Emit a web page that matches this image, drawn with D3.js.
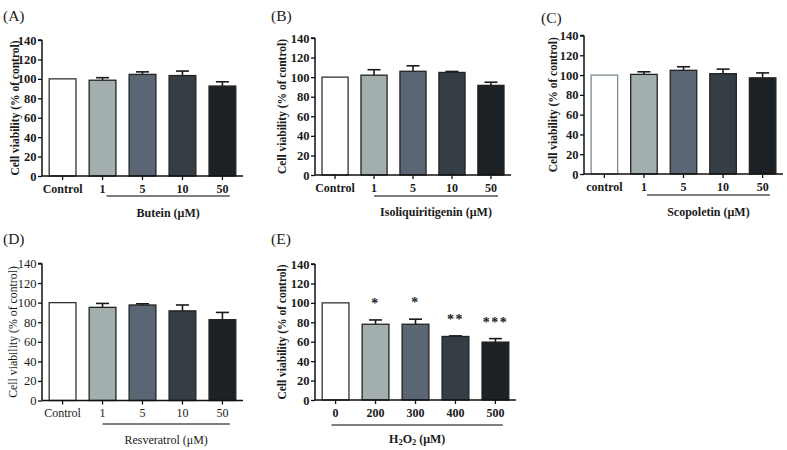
<!DOCTYPE html>
<html><head><meta charset="utf-8">
<script src="https://cdn.jsdelivr.net/npm/d3@7"></script>
<style>
html,body{margin:0;padding:0;background:#fff;}
svg{display:block;font-family:"Liberation Serif","Times New Roman",serif;}
</style></head>
<body><svg id="c" width="787" height="450"></svg>
<script>
// ---- data ----
const panelLabels = ["(A)", "(B)", "(C)", "(D)", "(E)"];
const yTicks = [0, 20, 40, 60, 80, 100, 120, 140];
const yTitle = "Cell viability (% of control)";

const categoriesA = ["Control", "1", "5", "10", "50"];
const valuesA = [100, 98.6, 104.6, 103.4, 92.6];
const errorsA = [0, 2.6, 2.6, 4.6, 4.4];
const xTitleA = "Butein (μM)";

const categoriesB = ["Control", "1", "5", "10", "50"];
const valuesB = [100, 102, 106, 104.8, 91.6];
const errorsB = [0, 5.6, 5.6, 1.0, 3.2];
const xTitleB = "Isoliquiritigenin (μM)";

const categoriesC = ["control", "1", "5", "10", "50"];
const valuesC = [100, 100.7, 104.8, 101.4, 97.2];
const errorsC = [0, 2.6, 3.6, 4.6, 5.0];
const xTitleC = "Scopoletin (μM)";

const categoriesD = ["Control", "1", "5", "10", "50"];
const valuesD = [100, 95.2, 97.6, 91.6, 82.6];
const errorsD = [0, 4.0, 1.2, 6.0, 7.4];
const xTitleD = "Resveratrol (μM)";

const categoriesE = ["0", "200", "300", "400", "500"];
const valuesE = [100, 78, 78, 65.4, 59.6];
const errorsE = [0, 4.4, 5.2, 0.6, 3.6];
const starsE = ["", "*", "*", "**", "***"];

const barColors = ["#ffffff", "#a3afaf", "#5a6673", "#353e44", "#1c2125"];

// ---- layout ----
const panels = [
  {lab: panelLabels[0], lx: 3, ly: 15, cats: categoriesA, vals: valuesA, errs: errorsA, xt: xTitleA,
   x0: 42, x1: 243, yTop: 40, yBot: 176, titleDx: 27, ulFrom: 1, ulDx: 4, ulDy: 20, xtDy: 37, bold: true, ctrlStroke: "#333"},
  {lab: panelLabels[1], lx: 271, ly: 15, cats: categoriesB, vals: valuesB, errs: errorsB, xt: xTitleB,
   x0: 315, x1: 511, yTop: 38, yBot: 175, titleDx: 33, ulFrom: 1, ulDx: 0, ulDy: 21, xtDy: 37, bold: true, ctrlStroke: "#333"},
  {lab: panelLabels[2], lx: 541, ly: 17, cats: categoriesC, vals: valuesC, errs: errorsC, xt: xTitleC,
   x0: 584, x1: 783, yTop: 35.5, yBot: 174, titleDx: 31, ulFrom: 1, ulDx: 3, ulDy: 21, xtDy: 38, bold: true, ctrlStroke: "#7e8c8c"},
  {lab: panelLabels[3], lx: 3, ly: 238, cats: categoriesD, vals: valuesD, errs: errorsD, xt: xTitleD,
   x0: 42, x1: 243, yTop: 263.5, yBot: 400.5, titleDx: 29, ulFrom: 1, ulDx: 0, ulDy: 23.5, xtDy: 39, bold: false, ctrlStroke: "#333"},
  {lab: panelLabels[4], lx: 271, ly: 238, cats: categoriesE, vals: valuesE, errs: errorsE, xt: null, stars: starsE,
   x0: 315, x1: 516, yTop: 264, yBot: 400, titleDx: 33, ulFrom: 0, ulDx: -4, ulDy: 25, xtDy: 39, bold: true, ctrlStroke: "#333"}
];

const svg = d3.select("#c");
const txt = "#1a1a1a";

panels.forEach(p => {
  const g = svg.append("g");
  const wt = p.bold ? "bold" : "normal";
  const y = d3.scaleLinear().domain([0, 140]).range([p.yBot, p.yTop]);
  const x = d3.scaleBand().domain(p.cats).range([p.x0, p.x1]).paddingInner(0.33).paddingOuter(0.18);

  // panel label
  g.append("text").attr("x", p.lx).attr("y", p.ly).attr("dominant-baseline", "central")
    .attr("font-size", 15.5).attr("fill", txt).text(p.lab);

  // bars
  p.cats.forEach((c, i) => {
    const v = p.vals[i], e = p.errs[i];
    const cx = x(c) + x.bandwidth() / 2;
    if (e > 0) {
      g.append("line").attr("x1", cx).attr("x2", cx).attr("y1", y(v)).attr("y2", y(v + e))
        .attr("stroke", "#1a1a1a").attr("stroke-width", 1.6);
      g.append("line").attr("x1", cx - 6.5).attr("x2", cx + 6.5).attr("y1", y(v + e)).attr("y2", y(v + e))
        .attr("stroke", "#1a1a1a").attr("stroke-width", 1.6);
    }
    g.append("rect").attr("x", x(c)).attr("y", y(v)).attr("width", x.bandwidth())
      .attr("height", y(0) - y(v)).attr("fill", barColors[i])
      .attr("stroke", i === 0 ? p.ctrlStroke : "#222").attr("stroke-width", 1.3);
    if (p.stars && p.stars[i]) {
      g.append("text").attr("x", cx).attr("y", y(v + e + 17)).attr("text-anchor", "middle")
        .attr("dominant-baseline", "central").attr("font-size", 14).attr("font-weight", "bold")
        .attr("letter-spacing", 1.5).attr("fill", "#222").text(p.stars[i]);
    }
  });

  // y axis
  const ya = g.append("g").attr("transform", `translate(${p.x0},0)`)
    .call(d3.axisLeft(y).tickValues(yTicks).tickSize(4).tickPadding(1.5));
  ya.select(".domain").attr("stroke", "#111").attr("stroke-width", 1.5).attr("d", `M0,${p.yBot}V${p.yTop}M-4,${p.yTop}H0`);
  ya.selectAll(".tick line").attr("stroke", "#111").attr("stroke-width", 1.3);
  ya.selectAll(".tick text").attr("font-family", "Liberation Serif, serif").attr("font-size", 12.5)
    .attr("font-weight", wt).attr("fill", txt);

  // x axis
  const xa = g.append("g").attr("transform", `translate(0,${p.yBot})`)
    .call(d3.axisBottom(x).tickSize(4).tickPadding(4));
  xa.select(".domain").attr("stroke", "#111").attr("stroke-width", 1.5).attr("d", `M${p.x0},0H${p.x1}`);
  xa.selectAll(".tick line").attr("stroke", "#111").attr("stroke-width", 1.3);
  xa.selectAll(".tick text").attr("font-family", "Liberation Serif, serif")
    .attr("font-size", 12).attr("font-weight", wt).attr("fill", txt);

  // y title
  g.append("text").attr("transform", `translate(${p.x0 - p.titleDx},${(p.yTop + p.yBot) / 2}) rotate(-90)`)
    .attr("text-anchor", "middle").attr("dominant-baseline", "central")
    .attr("font-size", p.bold ? 11.5 : 11.8).attr("font-weight", wt).attr("fill", txt).text(yTitle);

  // underline spanning treatment groups
  const c0 = p.cats[p.ulFrom], cl = p.cats[p.cats.length - 1];
  const u0 = x(c0) + x.bandwidth() / 2 + p.ulDx;
  const u1 = x(cl) + x.bandwidth() - 6;
  const uy = p.yBot + p.ulDy;
  g.append("line").attr("x1", u0).attr("x2", u1).attr("y1", uy).attr("y2", uy)
    .attr("stroke", "#555").attr("stroke-width", 1.3);

  // x title
  const t = g.append("text").attr("x", (u0 + u1) / 2).attr("y", p.yBot + p.xtDy)
    .attr("text-anchor", "middle").attr("dominant-baseline", "central")
    .attr("font-size", 12).attr("font-weight", wt).attr("fill", txt);
  if (p.xt) {
    t.text(p.xt);
  } else {
    t.append("tspan").text("H");
    t.append("tspan").attr("font-size", 8.5).attr("dy", 3).text("2");
    t.append("tspan").attr("dy", -3).text("O");
    t.append("tspan").attr("font-size", 8.5).attr("dy", 3).text("2");
    t.append("tspan").attr("dy", -3).text(" (μM)");
  }
});
</script></body></html>
